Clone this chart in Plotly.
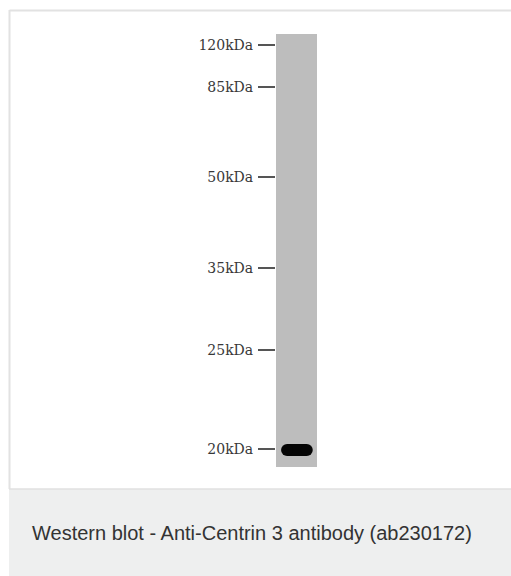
import plotly.graph_objects as go

# ---- data ----
marker_labels = ["120kDa", "85kDa", "50kDa", "35kDa", "25kDa", "20kDa"]
marker_kda = [120, 85, 50, 35, 25, 20]
marker_migration = [11, 53, 143, 234, 316, 415]   # migration distance from top of lane (arbitrary units)
band_kda = [20]
band_migration = [416]
lane_length = 433
caption = "Western blot - Anti-Centrin 3 antibody (ab230172)"

W, H = 511, 576

def py(px):
    return 1 - px / H

fig = go.Figure()

# band (stadium-shaped): thick line with round ends
band_x0, band_x1 = 0.27, 0.75
for m in band_migration:
    fig.add_trace(go.Scatter(
        x=[band_x0, band_x1], y=[m, m], mode="lines+markers",
        line=dict(color="#050505", width=12),
        marker=dict(color="#050505", size=12, symbol="circle", line=dict(width=0)),
        hoverinfo="skip", showlegend=False))

fig.update_layout(
    width=W, height=H,
    margin=dict(l=0, r=0, t=0, b=0),
    paper_bgcolor="white",
    plot_bgcolor="#bdbdbd",
    showlegend=False,
    xaxis=dict(domain=[276 / W, 317 / W], range=[0, 1], showgrid=False,
               zeroline=False, showticklabels=False, ticks="", showline=False,
               fixedrange=True),
    yaxis=dict(domain=[py(467), py(34)], range=[lane_length, 0], showgrid=False,
               zeroline=False, showline=False,
               tickmode="array", tickvals=marker_migration, ticktext=marker_labels,
               ticks="outside", ticklen=17, tickwidth=1.5, tickcolor="#555555",
               ticklabelstandoff=2,
               tickfont=dict(family="DejaVu Serif", size=14, color="#383838"),
               fixedrange=True),
    shapes=[
        # image frame border
        dict(type="line", xref="paper", yref="paper", x0=9.5 / W, x1=1, y0=py(10.5), y1=py(10.5),
             line=dict(color="#e2e2e2", width=2)),
        dict(type="line", xref="paper", yref="paper", x0=9.5 / W, x1=9.5 / W, y0=py(10), y1=py(489),
             line=dict(color="#e2e2e2", width=2)),
        # caption box
        dict(type="rect", xref="paper", yref="paper", x0=9 / W, x1=1, y0=0, y1=py(489),
             fillcolor="#eeefef", line=dict(width=0), layer="below"),
        dict(type="line", xref="paper", yref="paper", x0=9 / W, x1=1, y0=py(489), y1=py(489),
             line=dict(color="#e0e0e0", width=1.5)),
    ],
    annotations=[
        dict(text=caption, xref="paper", yref="paper", x=30 / W, y=py(533),
             xanchor="left", yanchor="middle", showarrow=False,
             font=dict(family="Liberation Sans, Arial", size=20, color="#333333")),
    ],
)

fig.write_html("out.html", config={"displayModeBar": False, "staticPlot": True},
               post_script="document.body.style.margin='0';document.body.style.overflow='hidden';")
